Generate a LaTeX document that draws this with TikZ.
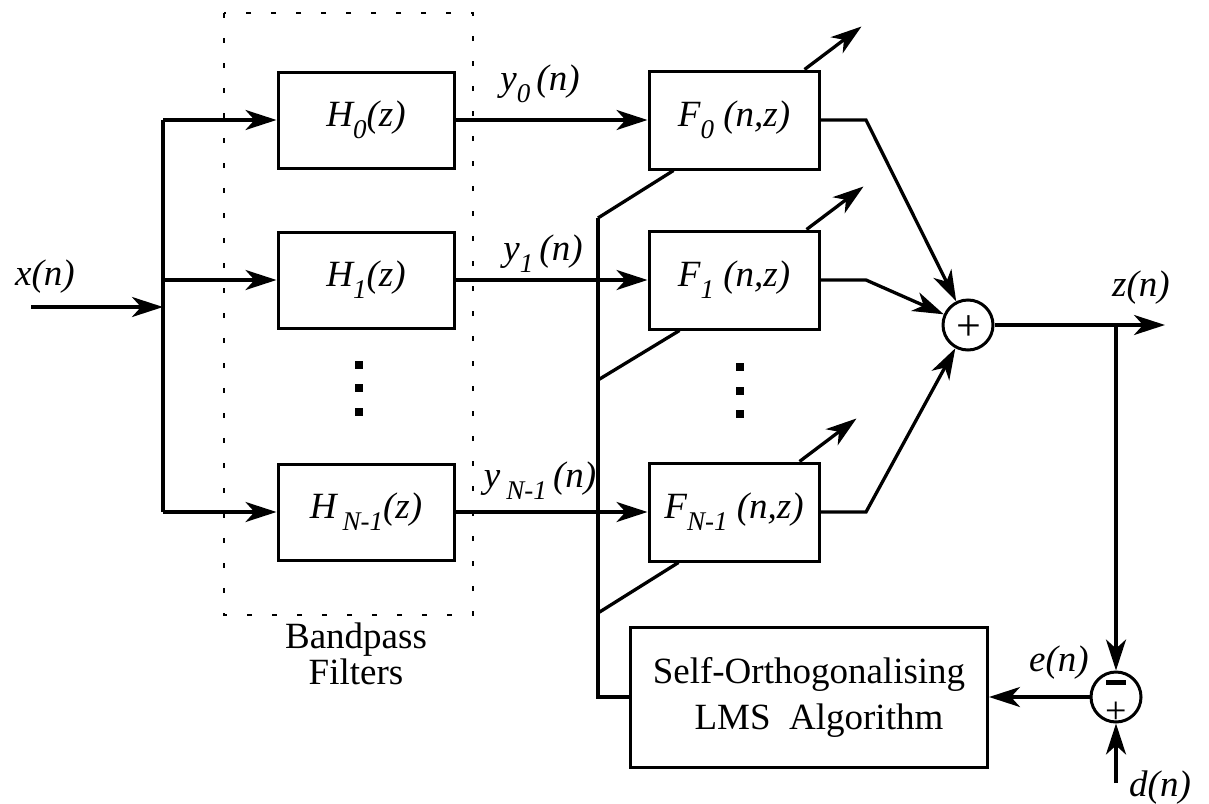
\documentclass[tikz,border=0pt]{standalone}
\usepackage{fontspec}
\setmainfont{Liberation Serif}
\usetikzlibrary{arrows.meta}
\newcommand{\mysub}[1]{\raisebox{-0.32em}{\fontsize{27}{27}\selectfont #1}}
\begin{document}
\begin{tikzpicture}[x=1pt,y=-1pt,line width=3.3pt,
  >={Stealth[length=31pt,width=20pt,inset=9pt]},
  hblk/.style={draw,line width=3pt,minimum width=176pt,minimum height=96pt,inner sep=0pt,font=\fontsize{37}{40}\selectfont\itshape},
  fblk/.style={draw,line width=3pt,minimum width=170pt,minimum height=98pt,inner sep=0pt,font=\fontsize{37}{40}\selectfont\itshape},
  sumnode/.style={circle,draw,line width=3pt,minimum size=50pt,inner sep=0pt},
  lbl/.style={font=\fontsize{37}{40}\selectfont\itshape,inner sep=0pt},
  rom/.style={font=\fontsize{37}{36}\selectfont,inner sep=0pt,align=center},
  sign/.style={font=\fontsize{44}{44}\selectfont,inner sep=0pt},
  dotsq/.style={fill=black}]
\useasboundingbox (0,0) rectangle (1209,803);
% dotted group box
\draw[line width=1.6pt,dash pattern=on 5pt off 20pt] (224,13) rectangle (473,615);
\node[rom] (bp) at (356,654) {Bandpass\\Filters};
% boxes
\node[hblk] (H0) at (366,120) {H\mysub{0}(z)};
\node[hblk] (H1) at (366,280) {H\mysub{1}(z)};
\node[hblk] (HN) at (366,512) {H\,\mysub{N-1}(z)};
\node[fblk] (F0) at (734,120) {F\mysub{0} (n,z)};
\node[fblk] (F1) at (734,280) {F\mysub{1} (n,z)};
\node[fblk] (FN) at (734,512) {F\mysub{N-1} (n,z)};
\node[sumnode] (sum) at (968,325) {};
\node[sign] (sp) at (969,328) {+};
\node[sumnode] (diff) at (1116,697) {};
\fill (1106,680) rectangle (1126,685);
\node[sign,font=\fontsize{38}{38}\selectfont] (dp) at (1116,713) {+};
\node[draw,line width=3pt,minimum width=357pt,minimum height=140pt,inner sep=0pt,
      rom,font=\fontsize{37}{46}\selectfont] (lms) at (809,697) {Self-Orthogonalising\\\hspace*{20pt}LMS\ \ Algorithm};
% dots
\foreach \yy in {365,388,412} \fill[dotsq] (355,\yy-4) rectangle (363,\yy+4);
\foreach \yy in {367,391,414} \fill[dotsq] (736,\yy-4) rectangle (744,\yy+4);
% coordinates
\coordinate (xin) at (31,307);
\coordinate (split) at (163,307);
\coordinate (s0) at (163,120);
\coordinate (s1) at (163,280);
\coordinate (sN) at (163,512);
\coordinate (b0) at (866,120);
\coordinate (b1) at (866,280);
\coordinate (bN) at (866,512);
\coordinate (zout) at (1165,325);
\coordinate (zj) at (1116,325);
\coordinate (din) at (1116,783);
\coordinate (fbtop) at (598,218);
\coordinate (fb1) at (598,380);
\coordinate (fbN) at (598,613);
\coordinate (fbbot) at (598,697);
% input
\draw[->] (xin) -- (split);
\draw (s0) -- (sN);
\draw[->] (s0) -- (H0.west);
\draw[->] (s1) -- (H1.west);
\draw[->] (sN) -- (HN.west);
% H -> F
\draw[->] (H0.east) -- (F0.west);
\draw[->] (H1.east) -- (F1.west);
\draw[->] (HN.east) -- (FN.west);
% F -> sum
\draw[->] (F0.east) -- (b0) -- (sum);
\draw[->] (F1.east) -- (b1) -- (sum);
\draw[->] (FN.east) -- (bN) -- (sum);
% output
\draw[->] (sum.east) -- (zout);
\draw[->] (zj) -- (diff.north);
\draw[->] (din) -- (diff.south);
\draw[->] (diff.west) -- (lms.east);
% LMS feedback
\draw (lms.west) -- (fbbot) -- (fbtop);
\draw (fbtop) -- ([xshift=26pt]F0.south west);
\draw (fb1) -- ([xshift=32pt]F1.south west);
\draw (fbN) -- ([xshift=31pt]FN.south west);
% adaptation arrows
\draw[->] ([xshift=-16pt]F0.north east) -- ++(57,-43);
\draw[->] ([xshift=-14pt]F1.north east) -- ++(57,-43);
\draw[->] ([xshift=-21pt]FN.north east) -- ++(57,-43);
% labels
\node[lbl] (lx) at (45,277) {x(n)};
\node[lbl] (ly0) at (540,84) {y\mysub{0}\,(n)};
\node[lbl] (ly1) at (543,254) {y\mysub{1}\,(n)};
\node[lbl] (lyN) at (540,481) {y\,\mysub{N-1}\,(n)};
\node[lbl] (lz) at (1141,288) {z(n)};
\node[lbl] (le) at (1059,663) {e(n)};
\node[lbl] (ld) at (1160,788) {d(n)};
\end{tikzpicture}
\end{document}
